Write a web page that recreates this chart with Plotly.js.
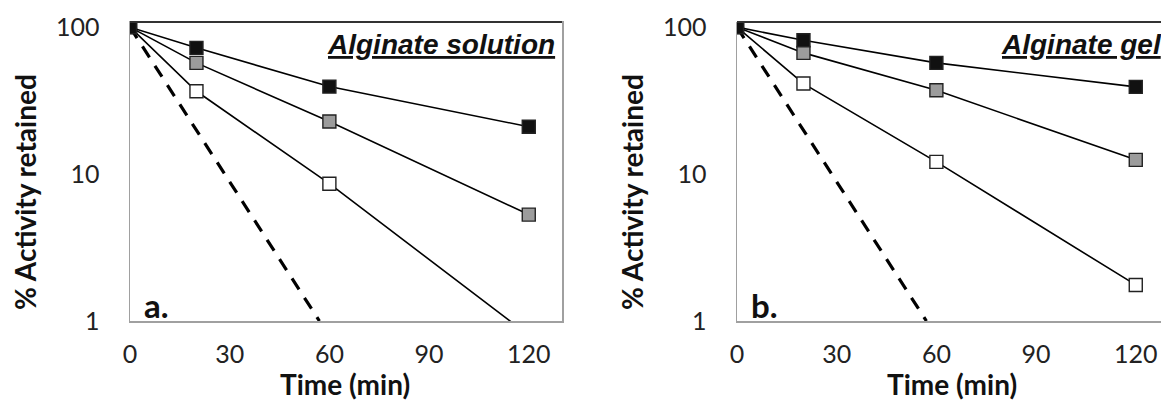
<!DOCTYPE html>
<html>
<head>
<meta charset="utf-8">
<script src="https://cdn.plot.ly/plotly-3.0.1.min.js"></script>
<style>
html, body { margin: 0; padding: 0; overflow: hidden; background: #fff; }
#chart { width: 1161px; height: 401px; overflow: hidden; }
</style>
</head>
<body>
<div id="chart"></div>
<script>
// Time points (min)
const timePoints = [0, 20, 60, 120];
// Panel a: Alginate solution (% activity retained)
const solutionBlack = [100, 72.3, 39.4, 21.0];
const solutionGray  = [100, 57.1, 22.8, 5.3];
const solutionWhite = [100, 36.6, 8.6, 0.8];
// Panel b: Alginate gel (% activity retained)
const gelBlack = [100, 81.4, 57.1, 39.2];
const gelGray  = [100, 66.8, 37.2, 12.5];
const gelWhite = [100, 41.3, 12.1, 1.76];
// Dashed reference line
const refTime = [0, 57];
const refActivity = [100, 1];
// Axis ticks
const xTicks = [0, 30, 60, 90, 120];
const yTicks = [1, 10, 100];
const yTickText = ['1', '10', '100'];
const panelTitles = ['Alginate solution', 'Alginate gel'];
const panelLetters = ['a.', 'b.'];

const W = 1161, H = 401;
// panel b is cut off by the right edge of the figure (same scale as panel a)
const pxPerMin = (562 - 130) / 130;
const xMaxB = (W - 737) / pxPerMin;
const lineStyle = {color: '#000', width: 1.6};

function seriesTrace(x, y, fill, xa, ya) {
  return {
    x: x, y: y, xaxis: xa, yaxis: ya, type: 'scatter', mode: 'lines+markers',
    line: lineStyle,
    marker: {symbol: 'square', size: 13, color: fill, line: {color: '#222', width: 1.4}},
    showlegend: false, hoverinfo: 'x+y'
  };
}
function dashTrace(xa, ya) {
  return {
    x: refTime, y: refActivity, xaxis: xa, yaxis: ya, type: 'scatter', mode: 'lines',
    line: {color: '#000', width: 3.2, dash: '13px,10px'}, showlegend: false
  };
}

const data = [
  dashTrace('x', 'y'),
  seriesTrace(timePoints, solutionWhite, '#ffffff', 'x', 'y'),
  seriesTrace(timePoints, solutionGray, '#9c9c9c', 'x', 'y'),
  seriesTrace(timePoints, solutionBlack, '#111111', 'x', 'y'),
  dashTrace('x2', 'y2'),
  seriesTrace(timePoints, gelWhite, '#ffffff', 'x2', 'y2'),
  seriesTrace(timePoints, gelGray, '#9c9c9c', 'x2', 'y2'),
  seriesTrace(timePoints, gelBlack, '#111111', 'x2', 'y2')
];

const tickFont = {family: 'Lato, "Open Sans", sans-serif', size: 25, color: '#222'};
function xAxis(domain, anchor, xmax, mirror) {
  return {
    domain: domain, anchor: anchor, range: [0, xmax], tickvals: xTicks,
    ticks: '', ticklabelstandoff: 10,
    showgrid: false, zeroline: false, showline: true, linecolor: '#a0a0a0', linewidth: 1.5,
    mirror: mirror, tickfont: tickFont, fixedrange: true
  };
}
function yAxis(anchor, mirror) {
  return {
    domain: [1 - 321 / H, 1 - 22 / H], anchor: anchor, type: 'log', range: [0, 2.035],
    tickvals: yTicks, ticktext: yTickText,
    ticks: '', ticklabelstandoff: 24,
    showgrid: false, zeroline: false, showline: true, linecolor: '#a0a0a0', linewidth: 1.5,
    mirror: mirror, tickfont: tickFont, fixedrange: true
  };
}

const boldFont = {family: 'Lato, "Open Sans", sans-serif', size: 28, color: '#111'};
const titleFont = {family: '"Liberation Sans", Arial, sans-serif', size: 28, color: '#111', lineposition: 'under'};
const letterFont = {family: 'Lato, "Open Sans", sans-serif', size: 33, color: '#111'};

const annotations = [];
[['x', 'y', 25, 345, -5], ['x2', 'y2', 632, 952, 3]].forEach(function (p, i) {
  annotations.push({
    xref: 'paper', yref: 'paper', x: p[2] / W, y: 1 - 192 / H, xanchor: 'center', yanchor: 'middle',
    text: '<b>% Activity retained</b>', textangle: -90, showarrow: false, font: boldFont
  });
  annotations.push({
    xref: 'paper', yref: 'paper', x: p[3] / W, y: 1 - 384 / H, xanchor: 'center', yanchor: 'middle',
    text: '<b>Time (min)</b>', showarrow: false, font: boldFont
  });
  annotations.push({
    xref: p[0] + ' domain', yref: 'paper', x: 1, xshift: p[4], y: 1 - 44 / H, xanchor: 'right', yanchor: 'middle',
    text: '<b><i>' + panelTitles[i] + '</i></b>', showarrow: false, font: titleFont
  });
  annotations.push({
    xref: p[0] + ' domain', yref: 'paper', x: 0, xshift: 12, y: 1 - 305 / H, xanchor: 'left', yanchor: 'middle',
    text: '<b>' + panelLetters[i] + '</b>', showarrow: false, font: letterFont
  });
});

const shapes = ['x', 'x2'].map(function (xa, i) {
  return {type: 'line', xref: xa + ' domain', yref: (i ? 'y2' : 'y') + ' domain', x0: 0, x1: 1, y0: 1, y1: 1,
          line: {color: '#333', width: 2}};
});

const layout = {
  width: W, height: H,
  margin: {l: 0, r: 0, t: 0, b: 0},
  paper_bgcolor: '#fff', plot_bgcolor: '#fff',
  showlegend: false,
  xaxis: xAxis([130 / W, 562 / W], 'y', 130, true),
  yaxis: yAxis('x', true),
  xaxis2: xAxis([737 / W, 1], 'y2', xMaxB, false),
  yaxis2: yAxis('x2', false),
  annotations: annotations,
  shapes: shapes
};

Plotly.newPlot('chart', data, layout, {displayModeBar: false, staticPlot: true});
</script>
</body>
</html>
